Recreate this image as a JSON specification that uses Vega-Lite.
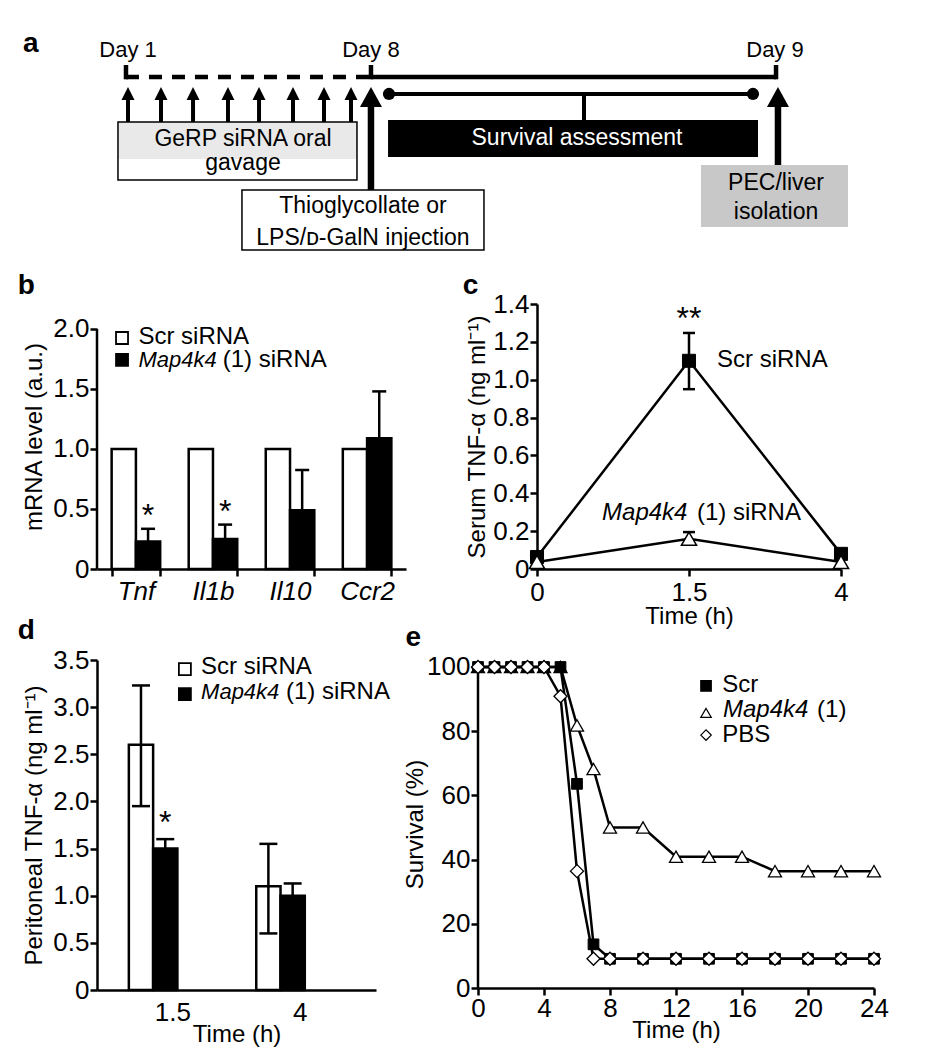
{
  "$schema": "https://vega.github.io/schema/vega-lite/v6.json",
  "background": "white",
  "padding": {"left": 17, "top": 30, "right": 5, "bottom": 5},
  "config": {
    "font": "Liberation Sans",
    "view": {"stroke": null},
    "axis": {"domainColor": "black", "domainWidth": 2.5, "tickColor": "black", "tickWidth": 2.5, "tickSize": 7, "labelColor": "black", "labelFontSize": 26, "labelFont": "Liberation Sans", "titleFont": "Liberation Sans", "titleFontSize": 24, "titleFontWeight": "normal", "titleColor": "black", "grid": false, "labelPadding": 1, "labelFlush": false, "labelOverlap": false, "tickCount": 12},
    "title": {"fontSize": 28, "fontWeight": "bold", "anchor": "start", "frame": "bounds", "color": "black", "font": "Liberation Sans"},
    "text": {"font": "Liberation Sans", "color": "black", "fontSize": 24}
  },
  "datasets": {
    "aBoxes": [
      {"kind": "gavage", "x1": 11.36, "x2": 38.52, "y1": 59.09, "y2": 32.73},
      {"kind": "gavageTop", "x1": 11.36, "x2": 38.52, "y1": 59.09, "y2": 42.27},
      {"kind": "survival", "x1": 42.05, "x2": 84.09, "y1": 60.0, "y2": 43.18},
      {"kind": "injection", "x1": 25.45, "x2": 52.95, "y1": 28.18, "y2": 0.91},
      {"kind": "isolation", "x1": 77.61, "x2": 94.32, "y1": 39.55, "y2": 11.36}
    ],
    "aLines": [
      {"kind": "dash", "x1": 12.27, "x2": 40.11, "y1": 79.55, "y2": 79.55},
      {"kind": "thick", "x1": 40.11, "x2": 86.14, "y1": 79.55, "y2": 79.55},
      {"kind": "thick", "x1": 12.27, "x2": 12.27, "y1": 78.5, "y2": 85.0},
      {"kind": "thick", "x1": 40.11, "x2": 40.11, "y1": 78.5, "y2": 85.0},
      {"kind": "thick", "x1": 86.14, "x2": 86.14, "y1": 78.5, "y2": 85.0},
      {"kind": "thin", "x1": 42.16, "x2": 83.52, "y1": 71.82, "y2": 71.82},
      {"kind": "thin", "x1": 64.32, "x2": 64.32, "y1": 60.0, "y2": 71.82},
      {"kind": "shaftSmall", "x1": 12.5, "x2": 12.5, "y1": 59.09, "y2": 70.45},
      {"kind": "shaftSmall", "x1": 16.25, "x2": 16.25, "y1": 59.09, "y2": 70.45},
      {"kind": "shaftSmall", "x1": 19.89, "x2": 19.89, "y1": 59.09, "y2": 70.45},
      {"kind": "shaftSmall", "x1": 23.86, "x2": 23.86, "y1": 59.09, "y2": 70.45},
      {"kind": "shaftSmall", "x1": 27.39, "x2": 27.39, "y1": 59.09, "y2": 70.45},
      {"kind": "shaftSmall", "x1": 31.25, "x2": 31.25, "y1": 59.09, "y2": 70.45},
      {"kind": "shaftSmall", "x1": 34.77, "x2": 34.77, "y1": 59.09, "y2": 70.45},
      {"kind": "shaftSmall", "x1": 37.84, "x2": 37.84, "y1": 59.09, "y2": 70.45},
      {"kind": "shaftBig", "x1": 40.11, "x2": 40.11, "y1": 28.18, "y2": 68.18},
      {"kind": "shaftBig", "x1": 86.36, "x2": 86.36, "y1": 39.55, "y2": 68.18}
    ],
    "aHeads": [
      {"kind": "small", "x": 12.5, "y": 72.05},
      {"kind": "small", "x": 16.25, "y": 72.05},
      {"kind": "small", "x": 19.89, "y": 72.05},
      {"kind": "small", "x": 23.86, "y": 72.05},
      {"kind": "small", "x": 27.39, "y": 72.05},
      {"kind": "small", "x": 31.25, "y": 72.05},
      {"kind": "small", "x": 34.77, "y": 72.05},
      {"kind": "small", "x": 37.84, "y": 72.05},
      {"kind": "big", "x": 40.11, "y": 70.45},
      {"kind": "big", "x": 86.36, "y": 70.45}
    ],
    "aDots": [
      {"x": 42.16, "y": 71.82},
      {"x": 83.52, "y": 71.82}
    ],
    "aText": [
      {"kind": "letter", "x": 0.57, "y": 90.9, "text": "a"},
      {"kind": "day", "x": 12.5, "y": 88.64, "text": "Day 1"},
      {"kind": "day", "x": 40.11, "y": 88.64, "text": "Day 8"},
      {"kind": "day", "x": 86.02, "y": 88.64, "text": "Day 9"},
      {"kind": "box", "x": 25.57, "y": 48.0, "text": "GeRP siRNA oral"},
      {"kind": "box", "x": 25.57, "y": 37.3, "text": "gavage"},
      {"kind": "box", "x": 39.2, "y": 17.6, "text": "Thioglycollate or"},
      {"kind": "box", "x": 39.2, "y": 3.4, "text": "LPS/ᴅ-GalN injection"},
      {"kind": "box", "x": 86.14, "y": 28.18, "text": "PEC/liver"},
      {"kind": "box", "x": 86.14, "y": 15.0, "text": "isolation"},
      {"kind": "white", "x": 63.52, "y": 48.64, "text": "Survival assessment"}
    ],
    "bBars": [
      {"gene": "Tnf", "group": "Scr", "value": 1},
      {"gene": "Tnf", "group": "Map4k4", "value": 0.23},
      {"gene": "Il1b", "group": "Scr", "value": 1},
      {"gene": "Il1b", "group": "Map4k4", "value": 0.25},
      {"gene": "Il10", "group": "Scr", "value": 1},
      {"gene": "Il10", "group": "Map4k4", "value": 0.49},
      {"gene": "Ccr2", "group": "Scr", "value": 1},
      {"gene": "Ccr2", "group": "Map4k4", "value": 1.09}
    ],
    "bErr": [
      {"gene": "Tnf", "group": "Map4k4", "lo": 0.23, "hi": 0.335},
      {"gene": "Il1b", "group": "Map4k4", "lo": 0.25, "hi": 0.37},
      {"gene": "Il10", "group": "Map4k4", "lo": 0.49, "hi": 0.825},
      {"gene": "Ccr2", "group": "Map4k4", "lo": 1.09, "hi": 1.48}
    ],
    "bStars": [
      {"gene": "Tnf", "group": "Map4k4", "v": 0.355, "label": "*"},
      {"gene": "Il1b", "group": "Map4k4", "v": 0.388, "label": "*"}
    ],
    "bAxis": [
      {"u": 0, "v": 0, "v2": 2}
    ],
    "bLegSym": [
      {"group": "Scr", "u": 0.081, "v": 1.925},
      {"group": "Map4k4", "u": 0.081, "v": 1.742}
    ],
    "bLegText": [
      {"text": "Scr siRNA", "style": "roman", "u": 0.134, "v": 1.878},
      {"text": "Map4k4", "style": "italic", "u": 0.134, "v": 1.683},
      {"text": "(1) siRNA", "style": "roman", "u": 0.407, "v": 1.683}
    ],
    "c": [
      {"series": "Scr", "t": "0", "v": 0.063},
      {"series": "Scr", "t": "1.5", "v": 1.10},
      {"series": "Scr", "t": "4", "v": 0.08},
      {"series": "Map4k4", "t": "0", "v": 0.037},
      {"series": "Map4k4", "t": "1.5", "v": 0.16},
      {"series": "Map4k4", "t": "4", "v": 0.037}
    ],
    "cErr": [
      {"series": "Scr", "t": "1.5", "lo": 0.95, "hi": 1.247},
      {"series": "Map4k4", "t": "1.5", "lo": 0.16, "hi": 0.195}
    ],
    "cCaps": [
      {"t": "1.5", "v": 0.95},
      {"t": "1.5", "v": 1.247},
      {"t": "1.5", "v": 0.195}
    ],
    "cStars": [
      {"t": "1.5", "v": 1.27, "label": "**"}
    ],
    "cText": [
      {"text": "Scr siRNA", "style": "roman", "u": 0.592, "v": 1.067},
      {"text": "Map4k4", "style": "italic", "u": 0.214, "v": 0.259},
      {"text": "(1) siRNA", "style": "roman", "u": 0.526, "v": 0.259}
    ],
    "dBars": [
      {"time": "1.5", "group": "Scr", "value": 2.6},
      {"time": "1.5", "group": "Map4k4", "value": 1.5},
      {"time": "4", "group": "Scr", "value": 1.1},
      {"time": "4", "group": "Map4k4", "value": 1.0}
    ],
    "dErr": [
      {"time": "1.5", "group": "Scr", "lo": 1.95, "hi": 3.23},
      {"time": "1.5", "group": "Map4k4", "lo": 1.5, "hi": 1.6},
      {"time": "4", "group": "Scr", "lo": 0.6, "hi": 1.55},
      {"time": "4", "group": "Map4k4", "lo": 1.0, "hi": 1.13}
    ],
    "dCaps": [
      {"time": "1.5", "group": "Scr", "v": 1.95},
      {"time": "1.5", "group": "Scr", "v": 3.23},
      {"time": "1.5", "group": "Map4k4", "v": 1.6},
      {"time": "4", "group": "Scr", "v": 0.6},
      {"time": "4", "group": "Scr", "v": 1.55},
      {"time": "4", "group": "Map4k4", "v": 1.13}
    ],
    "dStars": [
      {"time": "1.5", "group": "Map4k4", "v": 1.66, "label": "*"}
    ],
    "dLegSym": [
      {"group": "Scr", "u": 0.315, "v": 3.404},
      {"group": "Map4k4", "u": 0.315, "v": 3.139}
    ],
    "dLegText": [
      {"text": "Scr siRNA", "style": "roman", "u": 0.373, "v": 3.351},
      {"text": "Map4k4", "style": "italic", "u": 0.373, "v": 3.086},
      {"text": "(1) siRNA", "style": "roman", "u": 0.677, "v": 3.086}
    ],
    "e": [
      {"series": "Map4k4", "t": 0, "s": 100}, {"series": "Map4k4", "t": 1, "s": 100}, {"series": "Map4k4", "t": 2, "s": 100},
      {"series": "Map4k4", "t": 3, "s": 100}, {"series": "Map4k4", "t": 4, "s": 100}, {"series": "Map4k4", "t": 5, "s": 100},
      {"series": "Map4k4", "t": 6, "s": 81.8}, {"series": "Map4k4", "t": 7, "s": 68.2}, {"series": "Map4k4", "t": 8, "s": 50},
      {"series": "Map4k4", "t": 10, "s": 50}, {"series": "Map4k4", "t": 12, "s": 40.9}, {"series": "Map4k4", "t": 14, "s": 40.9},
      {"series": "Map4k4", "t": 16, "s": 40.9}, {"series": "Map4k4", "t": 18, "s": 36.4}, {"series": "Map4k4", "t": 20, "s": 36.4},
      {"series": "Map4k4", "t": 22, "s": 36.4}, {"series": "Map4k4", "t": 24, "s": 36.4},
      {"series": "Scr", "t": 0, "s": 100}, {"series": "Scr", "t": 1, "s": 100}, {"series": "Scr", "t": 2, "s": 100},
      {"series": "Scr", "t": 3, "s": 100}, {"series": "Scr", "t": 4, "s": 100}, {"series": "Scr", "t": 5, "s": 100},
      {"series": "Scr", "t": 6, "s": 63.6}, {"series": "Scr", "t": 7, "s": 13.6}, {"series": "Scr", "t": 8, "s": 9.1},
      {"series": "Scr", "t": 10, "s": 9.1}, {"series": "Scr", "t": 12, "s": 9.1}, {"series": "Scr", "t": 14, "s": 9.1},
      {"series": "Scr", "t": 16, "s": 9.1}, {"series": "Scr", "t": 18, "s": 9.1}, {"series": "Scr", "t": 20, "s": 9.1},
      {"series": "Scr", "t": 22, "s": 9.1}, {"series": "Scr", "t": 24, "s": 9.1},
      {"series": "PBS", "t": 0, "s": 100}, {"series": "PBS", "t": 1, "s": 100}, {"series": "PBS", "t": 2, "s": 100},
      {"series": "PBS", "t": 3, "s": 100}, {"series": "PBS", "t": 4, "s": 100}, {"series": "PBS", "t": 5, "s": 90.9},
      {"series": "PBS", "t": 6, "s": 36.4}, {"series": "PBS", "t": 7, "s": 9.1}, {"series": "PBS", "t": 8, "s": 9.1},
      {"series": "PBS", "t": 10, "s": 9.1}, {"series": "PBS", "t": 12, "s": 9.1}, {"series": "PBS", "t": 14, "s": 9.1},
      {"series": "PBS", "t": 16, "s": 9.1}, {"series": "PBS", "t": 18, "s": 9.1}, {"series": "PBS", "t": 20, "s": 9.1},
      {"series": "PBS", "t": 22, "s": 9.1}, {"series": "PBS", "t": 24, "s": 9.1}
    ],
    "eAxis": [
      {"t": 0, "s": 0, "s2": 100}
    ],
    "eLegSym": [
      {"series": "Scr", "x": 13.82, "y": 94.1},
      {"series": "Map4k4", "x": 13.82, "y": 85.7},
      {"series": "PBS", "x": 13.82, "y": 78.8}
    ],
    "eLegText": [
      {"text": "Scr", "style": "roman", "x": 14.8, "y": 92.2},
      {"text": "Map4k4", "style": "italic", "x": 14.85, "y": 84.4},
      {"text": "(1)", "style": "roman", "x": 20.55, "y": 84.4},
      {"text": "PBS", "style": "roman", "x": 14.8, "y": 76.6}
    ]
  },
  "spacing": 20,
  "resolve": {"scale": {"fill": "independent", "shape": "independent"}},
  "vconcat": [
    {
      "width": 801,
      "height": 220,
      "layer": [
        {
          "data": {"name": "aBoxes"},
          "mark": {"type": "rect"},
          "encoding": {
            "x": {"field": "x1", "type": "quantitative", "scale": {"domain": [8.977, 100], "nice": false, "zero": false}, "axis": null},
            "x2": {"field": "x2"},
            "y": {"field": "y1", "type": "quantitative", "scale": {"domain": [0, 100], "nice": false, "zero": false}, "axis": null},
            "y2": {"field": "y2"},
            "fill": {"field": "kind", "type": "nominal", "scale": {"domain": ["gavage", "gavageTop", "survival", "injection", "isolation"], "range": ["white", "#e9e9e9", "black", "white", "#c8c8c8"]}, "legend": null}
          }
        },
        {
          "data": {"name": "aBoxes"},
          "transform": [{"filter": "datum.kind == 'gavage' || datum.kind == 'injection'"}],
          "mark": {"type": "rect", "fillOpacity": 0, "stroke": "black", "strokeWidth": 1.5},
          "encoding": {
            "x": {"field": "x1", "type": "quantitative"},
            "x2": {"field": "x2"},
            "y": {"field": "y1", "type": "quantitative"},
            "y2": {"field": "y2"}
          }
        },
        {
          "data": {"name": "aLines"},
          "transform": [{"filter": "datum.kind == 'dash'"}],
          "mark": {"type": "rule", "color": "black", "strokeWidth": 4.5, "strokeDash": [13, 10]},
          "encoding": {
            "x": {"field": "x1", "type": "quantitative"}, "x2": {"field": "x2"},
            "y": {"field": "y1", "type": "quantitative"}, "y2": {"field": "y2"}
          }
        },
        {
          "data": {"name": "aLines"},
          "transform": [{"filter": "datum.kind == 'thick'"}],
          "mark": {"type": "rule", "color": "black", "strokeWidth": 4.5},
          "encoding": {
            "x": {"field": "x1", "type": "quantitative"}, "x2": {"field": "x2"},
            "y": {"field": "y1", "type": "quantitative"}, "y2": {"field": "y2"}
          }
        },
        {
          "data": {"name": "aLines"},
          "transform": [{"filter": "datum.kind == 'thin'"}],
          "mark": {"type": "rule", "color": "black", "strokeWidth": 4},
          "encoding": {
            "x": {"field": "x1", "type": "quantitative"}, "x2": {"field": "x2"},
            "y": {"field": "y1", "type": "quantitative"}, "y2": {"field": "y2"}
          }
        },
        {
          "data": {"name": "aLines"},
          "transform": [{"filter": "datum.kind == 'shaftSmall'"}],
          "mark": {"type": "rule", "color": "black", "strokeWidth": 4},
          "encoding": {
            "x": {"field": "x1", "type": "quantitative"}, "x2": {"field": "x2"},
            "y": {"field": "y1", "type": "quantitative"}, "y2": {"field": "y2"}
          }
        },
        {
          "data": {"name": "aLines"},
          "transform": [{"filter": "datum.kind == 'shaftBig'"}],
          "mark": {"type": "rule", "color": "black", "strokeWidth": 6.5},
          "encoding": {
            "x": {"field": "x1", "type": "quantitative"}, "x2": {"field": "x2"},
            "y": {"field": "y1", "type": "quantitative"}, "y2": {"field": "y2"}
          }
        },
        {
          "data": {"name": "aHeads"},
          "transform": [{"filter": "datum.kind == 'small'"}],
          "mark": {"type": "point", "shape": "M0,-1L1,1L-1,1Z", "filled": true, "color": "black", "opacity": 1, "size": 169},
          "encoding": {
            "x": {"field": "x", "type": "quantitative"},
            "y": {"field": "y", "type": "quantitative"}
          }
        },
        {
          "data": {"name": "aHeads"},
          "transform": [{"filter": "datum.kind == 'big'"}],
          "mark": {"type": "point", "shape": "M0,-0.9L1,0.9L-1,0.9Z", "filled": true, "color": "black", "opacity": 1, "size": 484},
          "encoding": {
            "x": {"field": "x", "type": "quantitative"},
            "y": {"field": "y", "type": "quantitative"}
          }
        },
        {
          "data": {"name": "aDots"},
          "mark": {"type": "point", "shape": "circle", "filled": true, "color": "black", "opacity": 1, "size": 150},
          "encoding": {
            "x": {"field": "x", "type": "quantitative"},
            "y": {"field": "y", "type": "quantitative"}
          }
        },
        {
          "data": {"name": "aText"},
          "transform": [{"filter": "datum.kind == 'letter'"}],
          "mark": {"type": "text", "align": "left", "baseline": "alphabetic", "fontSize": 28, "fontWeight": "bold"},
          "encoding": {
            "x": {"field": "x", "type": "quantitative"},
            "y": {"field": "y", "type": "quantitative"},
            "text": {"field": "text"}
          }
        },
        {
          "data": {"name": "aText"},
          "transform": [{"filter": "datum.kind == 'day'"}],
          "mark": {"type": "text", "align": "center", "baseline": "alphabetic", "fontSize": 22},
          "encoding": {
            "x": {"field": "x", "type": "quantitative"},
            "y": {"field": "y", "type": "quantitative"},
            "text": {"field": "text"}
          }
        },
        {
          "data": {"name": "aText"},
          "transform": [{"filter": "datum.kind == 'box'"}],
          "mark": {"type": "text", "align": "center", "baseline": "alphabetic", "fontSize": 23},
          "encoding": {
            "x": {"field": "x", "type": "quantitative"},
            "y": {"field": "y", "type": "quantitative"},
            "text": {"field": "text"}
          }
        },
        {
          "data": {"name": "aText"},
          "transform": [{"filter": "datum.kind == 'white'"}],
          "mark": {"type": "text", "align": "center", "baseline": "alphabetic", "fontSize": 23, "color": "white"},
          "encoding": {
            "x": {"field": "x", "type": "quantitative"},
            "y": {"field": "y", "type": "quantitative"},
            "text": {"field": "text"}
          }
        }
      ]
    },
    {
      "spacing": -11,
      "resolve": {"scale": {"fill": "independent", "shape": "independent"}},
      "vconcat": [
        {
          "spacing": 56,
          "resolve": {"scale": {"fill": "independent", "shape": "independent"}},
          "hconcat": [
            {
              "width": 309,
              "height": 265,
              "title": {"text": "b", "offset": 4, "dx": -5},
              "resolve": {"scale": {"x": "independent"}},
              "layer": [
                {
                  "layer": [
                    {
                      "data": {"name": "bBars"},
                      "mark": {"type": "bar", "stroke": "black", "strokeWidth": 2.5},
                      "encoding": {
                        "x": {"field": "gene", "type": "nominal", "sort": ["Tnf", "Il1b", "Il10", "Ccr2"], "scale": {"paddingInner": 0.37, "paddingOuter": 0.19}, "axis": {"title": null, "labelFontStyle": "italic", "ticks": true, "tickBand": "extent", "labelPadding": 2, "labelAngle": 0}},
                        "xOffset": {"field": "group", "type": "nominal", "sort": ["Scr", "Map4k4"]},
                        "y": {"field": "value", "type": "quantitative", "scale": {"domain": [0, 2.2083], "nice": false}, "axis": {"values": [0, 0.5, 1, 1.5, 2], "tickCount": 12, "domain": false, "labelOverlap": false, "labelExpr": "datum.value == 0 ? '0' : format(datum.value, '.1f')", "title": "mRNA level (a.u.)", "titlePadding": 6}},
                        "fill": {"field": "group", "type": "nominal", "scale": {"domain": ["Scr", "Map4k4"], "range": ["white", "black"]}, "legend": null}
                      }
                    },
                    {
                      "data": {"name": "bErr"},
                      "mark": {"type": "rule", "color": "black", "strokeWidth": 2.5},
                      "encoding": {
                        "x": {"field": "gene", "type": "nominal", "sort": ["Tnf", "Il1b", "Il10", "Ccr2"]},
                        "xOffset": {"field": "group", "type": "nominal", "sort": ["Scr", "Map4k4"]},
                        "y": {"field": "lo", "type": "quantitative", "scale": {"domain": [0, 2.2083], "nice": false}},
                        "y2": {"field": "hi"}
                      }
                    },
                    {
                      "data": {"name": "bErr"},
                      "mark": {"type": "tick", "orient": "horizontal", "color": "black", "thickness": 2.5, "size": 14, "opacity": 1},
                      "encoding": {
                        "x": {"field": "gene", "type": "nominal", "sort": ["Tnf", "Il1b", "Il10", "Ccr2"]},
                        "xOffset": {"field": "group", "type": "nominal", "sort": ["Scr", "Map4k4"]},
                        "y": {"field": "hi", "type": "quantitative", "scale": {"domain": [0, 2.2083], "nice": false}}
                      }
                    },
                    {
                      "data": {"name": "bStars"},
                      "mark": {"type": "text", "fontSize": 32, "baseline": "alphabetic", "align": "center"},
                      "encoding": {
                        "x": {"field": "gene", "type": "nominal", "sort": ["Tnf", "Il1b", "Il10", "Ccr2"]},
                        "xOffset": {"field": "group", "type": "nominal", "sort": ["Scr", "Map4k4"]},
                        "y": {"field": "v", "type": "quantitative", "scale": {"domain": [0, 2.2083], "nice": false}},
                        "text": {"field": "label"}
                      }
                    }
                  ]
                },
                {
                  "layer": [
                    {
                      "data": {"name": "bAxis"},
                      "mark": {"type": "rule", "color": "black", "strokeWidth": 2.5},
                      "encoding": {
                        "x": {"field": "u", "type": "quantitative", "scale": {"domain": [0, 1], "nice": false}, "axis": null},
                        "y": {"field": "v", "type": "quantitative", "scale": {"domain": [0, 2.2083], "nice": false}},
                        "y2": {"field": "v2"}
                      }
                    },
                    {
                      "data": {"name": "bLegSym"},
                      "mark": {"type": "point", "shape": "square", "filled": true, "size": 144, "stroke": "black", "strokeWidth": 1.8, "opacity": 1},
                      "encoding": {
                        "x": {"field": "u", "type": "quantitative"},
                        "y": {"field": "v", "type": "quantitative", "scale": {"domain": [0, 2.2083], "nice": false}},
                        "fill": {"field": "group", "type": "nominal", "legend": null}
                      }
                    },
                    {
                      "data": {"name": "bLegText"},
                      "transform": [{"filter": "datum.style == 'roman'"}],
                      "mark": {"type": "text", "align": "left", "baseline": "alphabetic", "fontSize": 24},
                      "encoding": {
                        "x": {"field": "u", "type": "quantitative"},
                        "y": {"field": "v", "type": "quantitative", "scale": {"domain": [0, 2.2083], "nice": false}},
                        "text": {"field": "text"}
                      }
                    },
                    {
                      "data": {"name": "bLegText"},
                      "transform": [{"filter": "datum.style == 'italic'"}],
                      "mark": {"type": "text", "align": "left", "baseline": "alphabetic", "fontSize": 22, "fontStyle": "italic"},
                      "encoding": {
                        "x": {"field": "u", "type": "quantitative"},
                        "y": {"field": "v", "type": "quantitative", "scale": {"domain": [0, 2.2083], "nice": false}},
                        "text": {"field": "text"}
                      }
                    }
                  ]
                }
              ]
            },
            {
              "width": 304,
              "height": 265,
              "title": {"text": "c", "offset": -9, "dx": -3},
              "resolve": {"scale": {"x": "independent"}},
              "layer": [
                {
                  "layer": [
                    {
                      "data": {"name": "cErr"},
                      "mark": {"type": "rule", "color": "black", "strokeWidth": 2.5},
                      "encoding": {
                        "x": {"field": "t", "type": "ordinal", "sort": ["0", "1.5", "4"], "scale": {"type": "point", "padding": 0}, "axis": {"title": "Time (h)", "labelAngle": 0, "titlePadding": -1, "labelPadding": 3}},
                        "y": {"field": "lo", "type": "quantitative", "scale": {"domain": [0, 1.4], "nice": false}, "axis": {"values": [0, 0.2, 0.4, 0.6, 0.8, 1.0, 1.2, 1.4], "tickCount": 12, "labelOverlap": false, "labelExpr": "datum.value == 0 ? '0' : format(datum.value, '.1f')", "title": "Serum TNF-α (ng ml⁻¹)", "titlePadding": 3}},
                        "y2": {"field": "hi"}
                      }
                    },
                    {
                      "data": {"name": "cCaps"},
                      "mark": {"type": "tick", "orient": "horizontal", "color": "black", "thickness": 2.5, "size": 12, "opacity": 1},
                      "encoding": {
                        "x": {"field": "t", "type": "ordinal", "sort": ["0", "1.5", "4"]},
                        "y": {"field": "v", "type": "quantitative", "scale": {"domain": [0, 1.4], "nice": false}}
                      }
                    },
                    {
                      "data": {"name": "c"},
                      "mark": {"type": "line", "color": "black", "strokeWidth": 2.5},
                      "encoding": {
                        "x": {"field": "t", "type": "ordinal", "sort": ["0", "1.5", "4"]},
                        "y": {"field": "v", "type": "quantitative", "scale": {"domain": [0, 1.4], "nice": false}},
                        "detail": {"field": "series", "type": "nominal"}
                      }
                    },
                    {
                      "data": {"name": "c"},
                      "transform": [{"filter": "datum.series == 'Scr'"}],
                      "mark": {"type": "point", "shape": "square", "filled": true, "fill": "black", "stroke": "black", "strokeWidth": 1, "size": 170, "opacity": 1},
                      "encoding": {
                        "x": {"field": "t", "type": "ordinal", "sort": ["0", "1.5", "4"]},
                        "y": {"field": "v", "type": "quantitative", "scale": {"domain": [0, 1.4], "nice": false}}
                      }
                    },
                    {
                      "data": {"name": "c"},
                      "transform": [{"filter": "datum.series == 'Map4k4'"}],
                      "mark": {"type": "point", "shape": "triangle-up", "filled": true, "fill": "white", "stroke": "black", "strokeWidth": 1.5, "size": 230, "opacity": 1},
                      "encoding": {
                        "x": {"field": "t", "type": "ordinal", "sort": ["0", "1.5", "4"]},
                        "y": {"field": "v", "type": "quantitative", "scale": {"domain": [0, 1.4], "nice": false}}
                      }
                    },
                    {
                      "data": {"name": "cStars"},
                      "mark": {"type": "text", "fontSize": 32, "baseline": "alphabetic", "align": "center"},
                      "encoding": {
                        "x": {"field": "t", "type": "ordinal", "sort": ["0", "1.5", "4"]},
                        "y": {"field": "v", "type": "quantitative", "scale": {"domain": [0, 1.4], "nice": false}},
                        "text": {"field": "label"}
                      }
                    }
                  ]
                },
                {
                  "layer": [
                    {
                      "data": {"name": "cText"},
                      "transform": [{"filter": "datum.style == 'roman'"}],
                      "mark": {"type": "text", "align": "left", "baseline": "alphabetic", "fontSize": 24},
                      "encoding": {
                        "x": {"field": "u", "type": "quantitative", "scale": {"domain": [0, 1], "nice": false}, "axis": null},
                        "y": {"field": "v", "type": "quantitative", "scale": {"domain": [0, 1.4], "nice": false}},
                        "text": {"field": "text"}
                      }
                    },
                    {
                      "data": {"name": "cText"},
                      "transform": [{"filter": "datum.style == 'italic'"}],
                      "mark": {"type": "text", "align": "left", "baseline": "alphabetic", "fontSize": 24, "fontStyle": "italic"},
                      "encoding": {
                        "x": {"field": "u", "type": "quantitative"},
                        "y": {"field": "v", "type": "quantitative", "scale": {"domain": [0, 1.4], "nice": false}},
                        "text": {"field": "text"}
                      }
                    }
                  ]
                }
              ]
            }
          ]
        },
        {
          "spacing": 13,
          "resolve": {"scale": {"fill": "independent", "shape": "independent"}},
          "hconcat": [
            {
              "width": 279,
              "height": 330,
              "title": {"text": "d", "offset": 2, "dx": -5},
              "resolve": {"scale": {"x": "independent"}},
              "layer": [
                {
                  "layer": [
                    {
                      "data": {"name": "dBars"},
                      "mark": {"type": "bar", "stroke": "black", "strokeWidth": 2.5},
                      "encoding": {
                        "x": {"field": "time", "type": "nominal", "sort": ["1.5", "4"], "scale": {"paddingInner": 0.31, "paddingOuter": 0.25}, "axis": {"title": "Time (h)", "ticks": false, "labelPadding": 9, "labelAngle": 0, "titlePadding": -3}},
                        "xOffset": {"field": "group", "type": "nominal", "sort": ["Scr", "Map4k4"]},
                        "y": {"field": "value", "type": "quantitative", "scale": {"domain": [0, 3.5], "nice": false}, "axis": {"values": [0, 0.5, 1, 1.5, 2, 2.5, 3, 3.5], "tickCount": 12, "labelOverlap": false, "labelExpr": "datum.value == 0 ? '0' : format(datum.value, '.1f')", "title": "Peritoneal TNF-α (ng ml⁻¹)", "titlePadding": 6}},
                        "fill": {"field": "group", "type": "nominal", "scale": {"domain": ["Scr", "Map4k4"], "range": ["white", "black"]}, "legend": null}
                      }
                    },
                    {
                      "data": {"name": "dErr"},
                      "mark": {"type": "rule", "color": "black", "strokeWidth": 2.5},
                      "encoding": {
                        "x": {"field": "time", "type": "nominal", "sort": ["1.5", "4"]},
                        "xOffset": {"field": "group", "type": "nominal", "sort": ["Scr", "Map4k4"]},
                        "y": {"field": "lo", "type": "quantitative", "scale": {"domain": [0, 3.5], "nice": false}},
                        "y2": {"field": "hi"}
                      }
                    },
                    {
                      "data": {"name": "dCaps"},
                      "mark": {"type": "tick", "orient": "horizontal", "color": "black", "thickness": 2.5, "size": 18, "opacity": 1},
                      "encoding": {
                        "x": {"field": "time", "type": "nominal", "sort": ["1.5", "4"]},
                        "xOffset": {"field": "group", "type": "nominal", "sort": ["Scr", "Map4k4"]},
                        "y": {"field": "v", "type": "quantitative", "scale": {"domain": [0, 3.5], "nice": false}}
                      }
                    },
                    {
                      "data": {"name": "dStars"},
                      "mark": {"type": "text", "fontSize": 32, "baseline": "alphabetic", "align": "center"},
                      "encoding": {
                        "x": {"field": "time", "type": "nominal", "sort": ["1.5", "4"]},
                        "xOffset": {"field": "group", "type": "nominal", "sort": ["Scr", "Map4k4"]},
                        "y": {"field": "v", "type": "quantitative", "scale": {"domain": [0, 3.5], "nice": false}},
                        "text": {"field": "label"}
                      }
                    }
                  ]
                },
                {
                  "layer": [
                    {
                      "data": {"name": "dLegSym"},
                      "mark": {"type": "point", "shape": "square", "filled": true, "size": 144, "stroke": "black", "strokeWidth": 1.8, "opacity": 1},
                      "encoding": {
                        "x": {"field": "u", "type": "quantitative", "scale": {"domain": [0, 1], "nice": false}, "axis": null},
                        "y": {"field": "v", "type": "quantitative", "scale": {"domain": [0, 3.5], "nice": false}},
                        "fill": {"field": "group", "type": "nominal", "legend": null}
                      }
                    },
                    {
                      "data": {"name": "dLegText"},
                      "transform": [{"filter": "datum.style == 'roman'"}],
                      "mark": {"type": "text", "align": "left", "baseline": "alphabetic", "fontSize": 24},
                      "encoding": {
                        "x": {"field": "u", "type": "quantitative"},
                        "y": {"field": "v", "type": "quantitative", "scale": {"domain": [0, 3.5], "nice": false}},
                        "text": {"field": "text"}
                      }
                    },
                    {
                      "data": {"name": "dLegText"},
                      "transform": [{"filter": "datum.style == 'italic'"}],
                      "mark": {"type": "text", "align": "left", "baseline": "alphabetic", "fontSize": 22, "fontStyle": "italic"},
                      "encoding": {
                        "x": {"field": "u", "type": "quantitative"},
                        "y": {"field": "v", "type": "quantitative", "scale": {"domain": [0, 3.5], "nice": false}},
                        "text": {"field": "text"}
                      }
                    }
                  ]
                }
              ]
            },
            {
              "width": 396,
              "height": 328,
              "title": {"text": "e", "offset": 2, "dx": 2},
              "layer": [
                {
                  "data": {"name": "eAxis"},
                  "mark": {"type": "rule", "color": "black", "strokeWidth": 2.5},
                  "encoding": {
                    "x": {"field": "t", "type": "quantitative", "scale": {"domain": [0, 24], "nice": false}, "axis": {"values": [0, 4, 8, 12, 16, 20, 24], "tickCount": 12, "labelOverlap": false, "title": "Time (h)", "titlePadding": -3, "labelPadding": 0}},
                    "y": {"field": "s", "type": "quantitative", "scale": {"domain": [0, 102.18], "nice": false}, "axis": {"values": [0, 20, 40, 60, 80, 100], "tickCount": 12, "domain": false, "labelOverlap": false, "title": "Survival (%)", "titlePadding": -1}},
                    "y2": {"field": "s2"}
                  }
                },
                {
                  "data": {"name": "e"},
                  "mark": {"type": "line", "color": "black", "strokeWidth": 2.5},
                  "encoding": {
                    "x": {"field": "t", "type": "quantitative"},
                    "y": {"field": "s", "type": "quantitative"},
                    "detail": {"field": "series", "type": "nominal"}
                  }
                },
                {
                  "data": {"name": "e"},
                  "transform": [{"filter": "datum.series == 'Map4k4'"}],
                  "mark": {"type": "point", "shape": "triangle-up", "filled": true, "fill": "white", "stroke": "black", "strokeWidth": 1.3, "size": 170, "opacity": 1},
                  "encoding": {
                    "x": {"field": "t", "type": "quantitative"},
                    "y": {"field": "s", "type": "quantitative"}
                  }
                },
                {
                  "data": {"name": "e"},
                  "transform": [{"filter": "datum.series == 'Scr'"}],
                  "mark": {"type": "point", "shape": "square", "filled": true, "fill": "black", "stroke": "black", "strokeWidth": 1, "size": 115, "opacity": 1},
                  "encoding": {
                    "x": {"field": "t", "type": "quantitative"},
                    "y": {"field": "s", "type": "quantitative"}
                  }
                },
                {
                  "data": {"name": "e"},
                  "transform": [{"filter": "datum.series == 'PBS'"}],
                  "mark": {"type": "point", "shape": "diamond", "filled": true, "fill": "white", "stroke": "black", "strokeWidth": 1.3, "size": 170, "opacity": 1},
                  "encoding": {
                    "x": {"field": "t", "type": "quantitative"},
                    "y": {"field": "s", "type": "quantitative"}
                  }
                },
                {
                  "data": {"name": "eLegSym"},
                  "mark": {"type": "point", "filled": true, "stroke": "black", "strokeWidth": 1.2, "size": 110, "opacity": 1},
                  "encoding": {
                    "x": {"field": "x", "type": "quantitative"},
                    "y": {"field": "y", "type": "quantitative"},
                    "shape": {"field": "series", "type": "nominal", "scale": {"domain": ["Scr", "Map4k4", "PBS"], "range": ["square", "triangle-up", "diamond"]}, "legend": null},
                    "fill": {"field": "series", "type": "nominal", "scale": {"domain": ["Scr", "Map4k4", "PBS"], "range": ["black", "white", "white"]}, "legend": null}
                  }
                },
                {
                  "data": {"name": "eLegText"},
                  "transform": [{"filter": "datum.style == 'roman'"}],
                  "mark": {"type": "text", "align": "left", "baseline": "alphabetic", "fontSize": 24},
                  "encoding": {
                    "x": {"field": "x", "type": "quantitative"},
                    "y": {"field": "y", "type": "quantitative"},
                    "text": {"field": "text"}
                  }
                },
                {
                  "data": {"name": "eLegText"},
                  "transform": [{"filter": "datum.style == 'italic'"}],
                  "mark": {"type": "text", "align": "left", "baseline": "alphabetic", "fontSize": 24, "fontStyle": "italic"},
                  "encoding": {
                    "x": {"field": "x", "type": "quantitative"},
                    "y": {"field": "y", "type": "quantitative"},
                    "text": {"field": "text"}
                  }
                }
              ]
            }
          ]
        }
      ]
    }
  ]
}
